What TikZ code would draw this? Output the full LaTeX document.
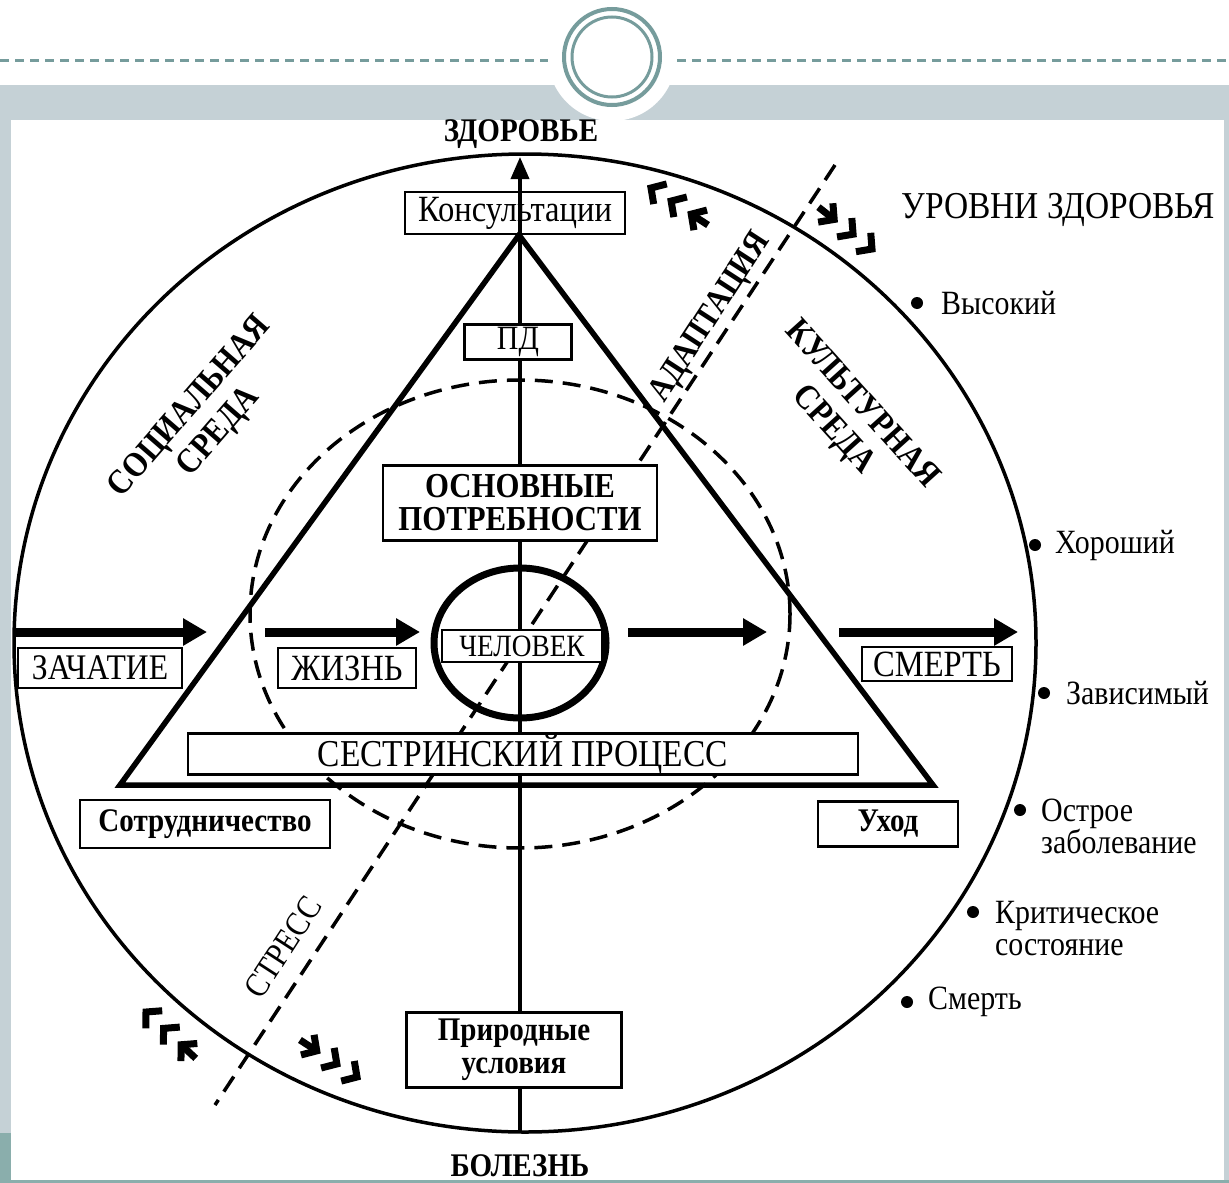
\documentclass[tikz,border=0pt]{standalone}
\usepackage{fontspec}
\setmainfont[FakeStretch = 0.88]{Liberation Serif}
\usetikzlibrary{arrows.meta}

\definecolor{bandgrey}{HTML}{C5D1D6}
\definecolor{ringteal}{HTML}{769C9C}
\definecolor{stripteal}{HTML}{8AAEAC}

\tikzset{
	 box/.style = {draw, line width = 2.8pt, fill = white, inner sep = 0pt, align = center},
	 bigarrow/.style = {line width = 9pt, -{Triangle[length = 24pt, width = 26pt]}},
	 chevron/.style = {line width = 7pt, line join = miter, line cap = butt},
	 level/.style = {anchor = west, align = left, inner sep = 0pt, font = \fontsize{34}{32}\selectfont},
}

\begin{document}
\begin{tikzpicture}[x = 1pt, y = -1pt]
	 \useasboundingbox (0, 0) rectangle (1229, 1183);
	 % slide frame
	 \fill[white] (0, 0) rectangle (1229, 1183);
	 \fill[bandgrey] (0, 85) rectangle (1229, 120);
	 \fill[bandgrey] (0, 120) rectangle (11, 1133);
	 \fill[stripteal] (0, 1133) rectangle (11, 1183);
	 \fill[bandgrey] (1224, 120) rectangle (1229, 1183);
	 \fill[stripteal] (0, 1180) rectangle (1229, 1183);
	 \draw[ringteal, line width = 3pt, dash pattern = on 9pt off 6pt] (0, 60) -- (548, 60);
	 \draw[ringteal, line width = 3pt, dash pattern = on 9pt off 6pt] (677, 60) -- (1229, 60);
	 \fill[white] (612, 57) circle (64);
	 \draw[ringteal, line width = 4pt] (612, 57) circle (48);
	 \draw[ringteal, line width = 3pt] (612, 57) circle (40);

	 % circles, axes, triangle
	 \coordinate (centre) at (525, 643);
	 \coordinate (top) at (520, 157);
	 \coordinate (bottom) at (520, 1132);
	 \coordinate (apex) at (519, 235);
	 \coordinate (left) at (120, 785);
	 \coordinate (right) at (933, 785);
	 \coordinate (adapt end) at (835, 165);
	 \coordinate (stress end) at (215, 1105);

	 \draw[line width = 3.5pt] (centre) ellipse [x radius = 511, y radius = 489];
	 \draw[line width = 3.5pt, dash pattern = on 18pt off 10pt] (520, 614) ellipse [x radius = 270, y radius = 234];
	 \draw[line width = 3.5pt, dash pattern = on 18pt off 10pt] (adapt end) -- (stress end);
	 \draw[line width = 5.5pt, line join = miter] (left) -- (right) -- (apex) -- cycle;
	 \draw[line width = 3.5pt, -{Triangle[length = 22pt, width = 18pt]}] (bottom) -- (top);
	 \draw[line width = 7pt] (520, 643) ellipse [x radius = 86, y radius = 75];

	 % life line
	 \coordinate (a1) at (14, 632);
	 \coordinate (a2) at (207, 632);
	 \coordinate (b1) at (265, 632);
	 \coordinate (b2) at (420, 632);
	 \coordinate (c1) at (628, 632);
	 \coordinate (c2) at (767, 632);
	 \coordinate (d1) at (839, 632);
	 \coordinate (d2) at (1018, 632);
	 \draw[bigarrow] (a1) -- (a2);
	 \draw[bigarrow] (b1) -- (b2);
	 \draw[bigarrow] (c1) -- (c2);
	 \draw[bigarrow] (d1) -- (d2);

	 % chevrons
	 \foreach \tip/\ang in {{651, 188}/-33, {872, 249}/142, {146, 1012}/-43, {357, 1077}/147}
	 {
	 	 \begin{scope}[shift = {(\tip)}, rotate = \ang]
	 	 	 \foreach \s in {0, 24, 48}
	 	 	 \draw[chevron] (\s + 11, -12) -- (\s, 0) -- (\s + 11, 12);
	 	 	 \draw[chevron] (48, 0) -- (68, 0);
	 	 \end{scope}
	 }

	 % boxes
	 \node[draw, line width = 2.8pt, inner sep = 0pt, minimum width = 220pt, minimum height = 42pt, font = \fontsize{37}{38}\selectfont] (cons) at (515, 213) {Консультации};
	 \node[box, minimum width = 107pt, minimum height = 35pt, font = \fontsize{34}{36}\selectfont] (pd) at (518, 342) {ПД};
	 \node[box, minimum width = 274pt, minimum height = 75pt, font = \bfseries\fontsize{35}{33}\selectfont] (needs) at (520, 503) {ОСНОВНЫЕ\\ПОТРЕБНОСТИ};
	 \node[box, minimum width = 160pt, minimum height = 32pt, font = \fontsize{31}{33}\selectfont] (man) at (522, 646) {ЧЕЛОВЕК};
	 \node[box, minimum width = 164pt, minimum height = 40pt, font = \fontsize{36}{38}\selectfont] (conc) at (100, 668) {ЗАЧАТИЕ};
	 \node[box, minimum width = 138pt, minimum height = 40pt, font = \fontsize{37}{39}\selectfont] (life) at (347, 668) {ЖИЗНЬ};
	 \node[box, minimum width = 150pt, minimum height = 34pt, font = \fontsize{37}{39}\selectfont] (death) at (937, 664) {СМЕРТЬ};
	 \node[box, minimum width = 670pt, minimum height = 38pt, font = \fontsize{38}{40}\selectfont] (nurse) at (523, 754) {СЕСТРИНСКИЙ ПРОЦЕСС};
	 \node[box, minimum width = 250pt, minimum height = 48pt, font = \bfseries\fontsize{33}{35}\selectfont] (coop) at (205, 824) {Сотрудничество};
	 \node[box, minimum width = 140pt, minimum height = 45pt, font = \bfseries\fontsize{33}{35}\selectfont] (care) at (888, 824) {Уход};
	 \node[box, minimum width = 215pt, minimum height = 75pt, font = \bfseries\fontsize{33}{33}\selectfont] (nature) at (514, 1050) {Природные\\условия};

	 % poles and areas
	 \node[font = \bfseries\fontsize{33}{35}\selectfont] (health) at (521, 134) {ЗДОРОВЬЕ};
	 \node[font = \bfseries\fontsize{33}{35}\selectfont] (illness) at (520, 1166) {БОЛЕЗНЬ};
	 \node[align = center, rotate = 49, font = \bfseries\fontsize{35}{38}\selectfont] (social) at (205, 420) {СОЦИАЛЬНАЯ\\СРЕДА};
	 \node[align = center, rotate = -48, font = \bfseries\fontsize{35}{38}\selectfont] (cultural) at (847, 418) {КУЛЬТУРНАЯ\\СРЕДА};
	 \node[rotate = 57, font = \bfseries\fontsize{34}{36}\selectfont] (adapt) at (711, 318) {АДАПТАЦИЯ};
	 \node[rotate = 57, font = \fontsize{34}{36}\selectfont] (stress) at (283, 947) {СТРЕСС};

	 % levels of health
	 \node[font = \fontsize{38}{40}\selectfont] (levels) at (1058, 210) {УРОВНИ ЗДОРОВЬЯ};
	 \fill (917, 303) circle (6);
	 \node[level] (high) at (941, 303) {Высокий};
	 \fill (1035, 545) circle (6);
	 \node[level] (good) at (1055, 545) {Хороший};
	 \fill (1044, 693) circle (6);
	 \node[level] (dep) at (1066, 693) {Зависимый};
	 \fill (1020, 810) circle (6);
	 \node[level] (acute) at (1041, 826) {Острое\\заболевание};
	 \fill (973, 912) circle (6);
	 \node[level] (crit) at (995, 929) {Критическое\\состояние};
	 \fill (907, 1002) circle (6);
	 \node[level] (dead) at (928, 1002) {Смерть};
\end{tikzpicture}
\end{document}
